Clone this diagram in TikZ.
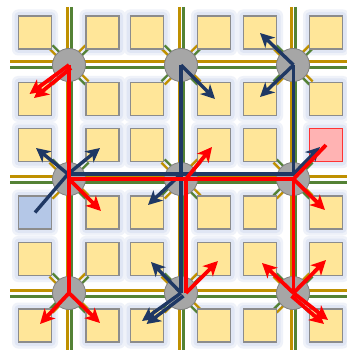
\documentclass[tikz,border=0pt]{standalone}
\usetikzlibrary{arrows.meta,calc}
\definecolor{boxfill}{HTML}{FFE699}
\definecolor{boxdraw}{HTML}{8C8C8C}
\definecolor{glowout}{HTML}{EFF2F9}
\definecolor{glowin}{HTML}{E0E6F4}
\definecolor{gold}{HTML}{BF9000}
\definecolor{lgreen}{HTML}{548235}
\definecolor{navy}{HTML}{1F3864}
\definecolor{rtr}{HTML}{A6A6A6}
\definecolor{rtrdraw}{HTML}{808080}
\definecolor{srcred}{HTML}{FFB3B3}
\definecolor{srcblue}{HTML}{B4C7E7}
\definecolor{pathred}{HTML}{FF0000}
\begin{document}
\begin{tikzpicture}[x=1pt,y=-1pt,
  tile/.style={draw=boxdraw,fill=boxfill,line width=1.2pt,minimum size=33pt,inner sep=0pt,outer sep=0pt},
  router/.style={circle,draw=rtrdraw,fill=rtr,line width=0.8pt,minimum size=33pt,inner sep=0pt},
  goldline/.style={gold,line width=3pt},
  greenline/.style={lgreen,line width=3pt},
  navyline/.style={navy,line width=3.4pt},
  redline/.style={pathred,line width=3.8pt},
  navyarr/.style={navy,line width=3.4pt,-{Stealth[length=14pt,width=14pt,inset=4pt]}},
  redarr/.style={pathred,line width=3.8pt,-{Stealth[length=14.5pt,width=14.5pt,inset=4pt]}},
]
\useasboundingbox (0,0) rectangle (347,350);
\fill[white] (0,0) rectangle (347,350);
% glow behind tiles
\foreach \y in {32.5,99,145,212.5,259,325.5} {
  \foreach \x in {35,102.5,147,214,260,326} {
    \fill[glowout,rounded corners=6pt] (\x-23,\y-23) rectangle (\x+23,\y+23);
    \fill[glowin,rounded corners=4pt] (\x-20.5,\y-20.5) rectangle (\x+20.5,\y+20.5);
  }
}
% grid lines
\foreach \X in {69,181,293} {
  \draw[goldline] (\X-2,7) -- (\X-2,350);
  \draw[greenline] (\X+2.5,7) -- (\X+2.5,350);
}
\foreach \Y in {65,179,293} {
  \draw[goldline] (10,\Y-3) -- (347,\Y-3);
  \draw[greenline] (10,\Y+3) -- (347,\Y+3);
}
% diagonal links
\foreach \X in {69,181,293} {
  \foreach \Y in {65,179,293} {
    \foreach \sx/\sy in {1/1,1/-1,-1/1,-1/-1} {
      \draw[gold,line width=2.4pt] ({\X+18*\sx+1.6*\sy},{\Y+18*\sy-1.6*\sx}) -- ({\X+1.6*\sy},{\Y-1.6*\sx});
      \draw[lgreen,line width=2.4pt] ({\X+18*\sx-1.6*\sy},{\Y+18*\sy+1.6*\sx}) -- ({\X-1.6*\sy},{\Y+1.6*\sx});
    }
  }
}
% tiles
\foreach \y [count=\r] in {32.5,99,145,212.5,259,325.5} {
  \foreach \x [count=\c] in {35,102.5,147,214,260,326} {
    \node[tile] (b\r\c) at (\x,\y) {};
  }
}
\node[tile,fill=srcblue] (bluesrc) at (b41.center) {};
\node[tile,fill=srcred,draw=pathred!80] (redsrc) at (b36.center) {};
% routers
\foreach \Y [count=\r] in {65,179,293} {
  \foreach \X [count=\c] in {69,181,293} {
    \node[router] (r\r\c) at (\X,\Y) {};
  }
}
% waypoints
\coordinate (n12) at (181,65);
\coordinate (n13) at (293.5,65);
\coordinate (n21) at (68,174);
\coordinate (n22) at (181,174);
\coordinate (n23) at (293.5,174);
\coordinate (n32) at (181,293);
\coordinate (n32b) at (183.5,296);
\coordinate (e11) at (69,65);
\coordinate (e11b) at (71,68);
\coordinate (e21) at (69,179);
\coordinate (e23) at (293.5,179);
\coordinate (e31) at (69,293);
\coordinate (e33) at (293.5,293);
\coordinate (e33b) at (291.5,296);
\coordinate (f22) at (186,179);
\coordinate (f32) at (186,293);
% arrow tips
\coordinate (t24) at (215,99);
\coordinate (t15) at (260,33);
\coordinate (t25) at (260,97);
\coordinate (t31) at (36,148);
\coordinate (t32) at (100,148);
\coordinate (t43) at (148,205);
\coordinate (t36) at (320,147);
\coordinate (t53) at (151,262);
\coordinate (t63) at (142,321);
\coordinate (t63b) at (146.5,324);
\coordinate (u21) at (29.5,94);
\coordinate (u21b) at (34,98);
\coordinate (u42) at (101,211);
\coordinate (u34) at (212,147);
\coordinate (u46) at (325,210);
\coordinate (u61) at (40,324);
\coordinate (u62) at (100,323);
\coordinate (u54) at (218,261);
\coordinate (u55) at (262,263);
\coordinate (u56) at (326,260);
\coordinate (u66) at (328,320);
\coordinate (u66b) at (324,324);
% navy tree
\draw[navyline] (bluesrc.center) -- (n21);
\draw[navyline] (n21) -- (n23) -- (n13);
\draw[navyline] (n12) -- (n32);
\draw[navyarr] (n21) -- (t31);
\draw[navyarr] (n21) -- (t32);
\draw[navyarr] (n12) -- (t24);
\draw[navyarr] (n13) -- (t15);
\draw[navyarr] (n13) -- (t25);
\draw[navyarr] (n22) -- (t43);
\draw[navyarr] (n23) -- (t36);
\draw[navyarr] (n32) -- (t53);
\draw[navyarr] (n32) -- (t63);
\draw[navyarr] (n32b) -- (t63b);
% red tree
\draw[redline] (e11) -- (e31);
\draw[redline] (e21) -- (e23);
\draw[redline] (f22) -- (f32);
\draw[redline] (e23) -- (e33);
\draw[redline] (redsrc.center) -- (e23);
\draw[redarr] (e11) -- (u21);
\draw[redarr] (e11b) -- (u21b);
\draw[redarr] (e21) -- (u42);
\draw[redarr] (f22) -- (u34);
\draw[redarr] (e23) -- (u46);
\draw[redarr] (e31) -- (u61);
\draw[redarr] (e31) -- (u62);
\draw[redarr] (f32) -- (u54);
\draw[redarr] (e33) -- (u55);
\draw[redarr] (e33) -- (u56);
\draw[redarr] (e33) -- (u66);
\draw[redarr] (e33b) -- (u66b);
\end{tikzpicture}
\end{document}
